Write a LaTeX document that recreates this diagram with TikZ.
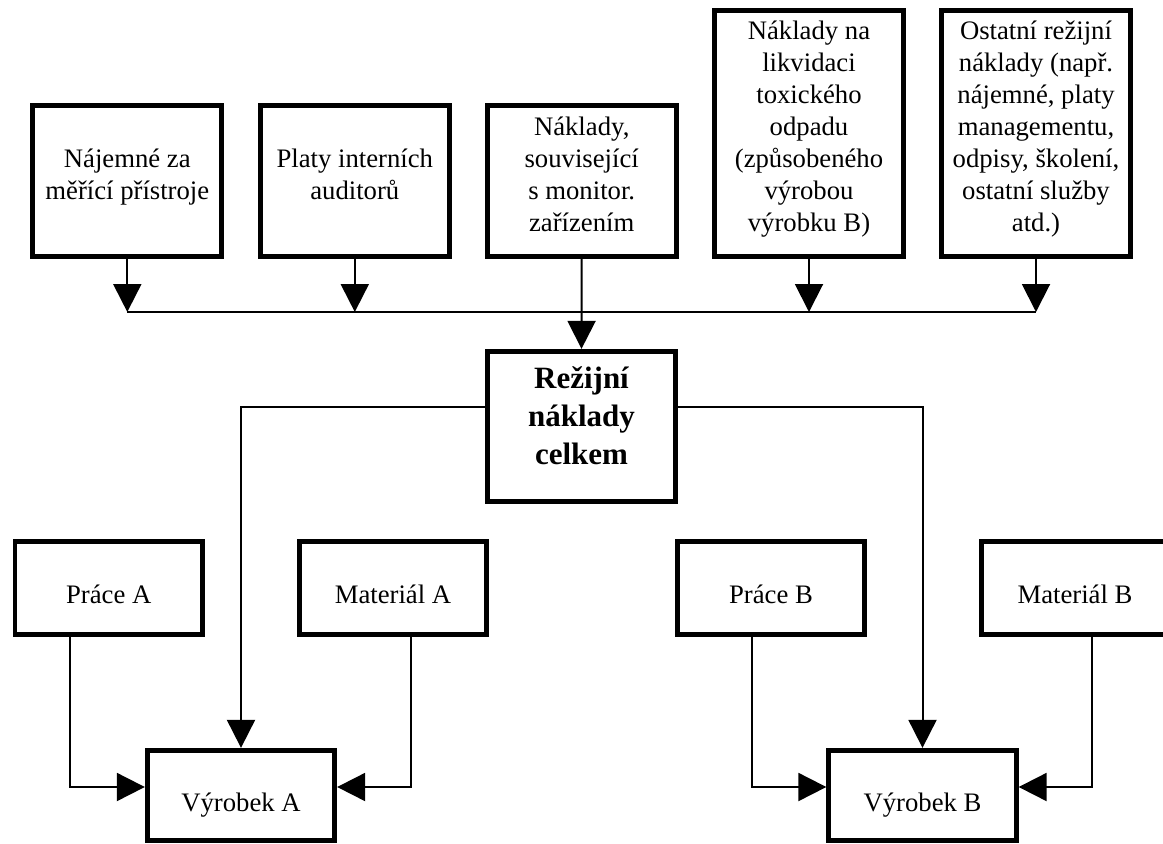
\documentclass[tikz,border=0pt]{standalone}
\usepackage{fontspec}
\setmainfont{Liberation Serif}
\usetikzlibrary{arrows.meta}
% centred stack of lines, lifted by #1 without changing the box size
\newcommand{\boxlines}[2]{\raisebox{#1}[0pt][0pt]{\begin{tabular}{@{}c@{}}#2\end{tabular}}}
\begin{document}
\begin{tikzpicture}[x=1pt,y=-1pt,
  box/.style={draw, line width=4.8pt, inner sep=0pt, minimum width=189pt,
    font=\fontsize{26.7}{32}\selectfont},
  lowbox/.style={box, minimum width=187.5pt},
  conn/.style={line width=2pt},
  arr/.style={conn, -{Triangle[length=28pt,width=28pt]}}]
\useasboundingbox (0,0) rectangle (1163,844);

% cost items feeding the overhead pool
\node[box, minimum height=151pt] (n1) at (127.3,181)
  {\boxlines{-2pt}{Nájemné za\\měřící přístroje}};
\node[box, minimum height=151pt] (n2) at (354.8,181)
  {\boxlines{-2pt}{Platy interních\\auditorů}};
\node[box, minimum height=151pt] (n3) at (581.7,181)
  {\boxlines{-2pt}{Náklady,\\související\\s monitor.\\zařízením}};
\node[box, minimum height=246pt] (n4) at (809,133.5)
  {\boxlines{-2pt}{Náklady na\\likvidaci\\toxického\\odpadu\\(způsobeného\\výrobou\\výrobku B)}};
\node[box, minimum height=246pt] (n5) at (1036,133.5)
  {\boxlines{-2pt}{Ostatní režijní\\náklady (např.\\nájemné, platy\\managementu,\\odpisy, školení,\\ostatní služby\\atd.)}};

% overhead total
\node[box, minimum width=188.5pt, minimum height=150.5pt,
  font=\bfseries\fontsize{31}{37.7}\selectfont] (tot) at (581.5,426.5)
  {\boxlines{1.2pt}{Režijní\\náklady\\celkem}};

% direct costs and products
\node[lowbox, minimum height=93.5pt] (pa) at (108.7,588) {\boxlines{-15.5pt}{Práce A}};
\node[lowbox, minimum height=93.5pt] (ma) at (393,588) {\boxlines{-15.5pt}{Materiál A}};
\node[lowbox, minimum height=90.5pt] (va) at (241,795.5) {\boxlines{-15.5pt}{Výrobek A}};
\node[lowbox, minimum height=93.5pt] (pb) at (771,588) {\boxlines{-15.5pt}{Práce B}};
\node[lowbox, minimum height=93.5pt] (mb) at (1075,588) {\boxlines{-15.5pt}{Materiál B}};
\node[lowbox, minimum height=90.5pt] (vb) at (922.5,795.5) {\boxlines{-15.5pt}{Výrobek B}};

% collecting bus
\coordinate (bus) at (0,312);
\foreach \n in {n1,n2,n4,n5} \draw[arr] (\n.south) -- (\n.south |- bus);
\draw[conn] (n1.south |- bus) -- (n5.south |- bus);
\draw[arr] (n3.south) -- (tot.north);

% allocation of the total to the products
\coordinate (ly) at (0,407);
\draw[arr] (tot.west |- ly) -| (va.north);
\draw[arr] (tot.east |- ly) -| (vb.north);

% direct costs into the products
\coordinate (sy) at (0,787);
\coordinate (xpa) at (70,0);
\coordinate (xma) at (411,0);
\coordinate (xpb) at (751.7,0);
\coordinate (xmb) at (1092,0);
\draw[arr] (pa.south -| xpa) |- (va.west |- sy);
\draw[arr] (ma.south -| xma) |- (va.east |- sy);
\draw[arr] (pb.south -| xpb) |- (vb.west |- sy);
\draw[arr] (mb.south -| xmb) |- (vb.east |- sy);
\end{tikzpicture}
\end{document}
